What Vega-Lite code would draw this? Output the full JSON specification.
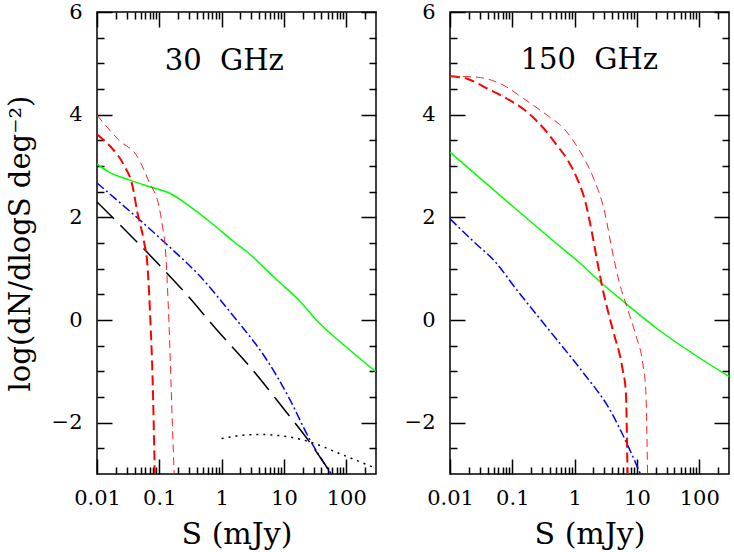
{
  "$schema": "https://vega.github.io/schema/vega-lite/v6.json",
  "background": "white",
  "padding": {"left": 5, "top": 0, "right": 4, "bottom": 5},
  "bounds": "flush",
  "spacing": 74,
  "config": {
    "view": {"stroke": "black", "strokeWidth": 1.5},
    "font": "DejaVu Serif",
    "axis": {"grid": false, "domain": false, "ticks": true, "zindex": 1, "tickColor": "black", "tickOpacity": 1, "tickWidth": 1.5, "labelColor": "black", "labelFont": "DejaVu Serif", "labelFontSize": 21, "titleFont": "DejaVu Serif", "titleFontWeight": "normal", "titleColor": "black", "labelFlush": false, "labelOverlap": false, "labelBound": false}
  },
  "datasets": {
    "curves": [
      {"p":"L","k":"green","s":0.01,"y":3.04},{"p":"L","k":"green","s":0.0156,"y":2.88},{"p":"L","k":"green","s":0.0348,"y":2.72},{"p":"L","k":"green","s":0.0728,"y":2.59},{"p":"L","k":"green","s":0.153,"y":2.46},{"p":"L","k":"green","s":0.32,"y":2.20},{"p":"L","k":"green","s":0.67,"y":1.90},{"p":"L","k":"green","s":1.585,"y":1.52},{"p":"L","k":"green","s":2.6,"y":1.32},{"p":"L","k":"green","s":7.42,"y":0.80},{"p":"L","k":"green","s":17.6,"y":0.38},{"p":"L","k":"green","s":36.8,"y":-0.06},{"p":"L","k":"green","s":77.2,"y":-0.41},{"p":"L","k":"green","s":300,"y":-1.01},
      {"p":"L","k":"blue","s":0.01,"y":2.67},{"p":"L","k":"blue","s":0.127,"y":1.49},{"p":"L","k":"blue","s":0.436,"y":0.87},{"p":"L","k":"blue","s":1.585,"y":0.06},{"p":"L","k":"blue","s":2.16,"y":-0.14},{"p":"L","k":"blue","s":5.13,"y":-0.75},{"p":"L","k":"blue","s":12.1,"y":-1.52},{"p":"L","k":"blue","s":25.5,"y":-2.31},{"p":"L","k":"blue","s":56.8,"y":-2.99},
      {"p":"L","k":"black","s":0.01,"y":2.30},{"p":"L","k":"black","s":0.1,"y":1.07},{"p":"L","k":"black","s":0.282,"y":0.48},{"p":"L","k":"black","s":0.807,"y":-0.17},{"p":"L","k":"black","s":2.8,"y":-0.90},{"p":"L","k":"black","s":9.48,"y":-1.70},{"p":"L","k":"black","s":25.5,"y":-2.37},{"p":"L","k":"black","s":56.8,"y":-2.99},
      {"p":"L","k":"redthick","s":0.01,"y":3.62},{"p":"L","k":"redthick","s":0.0129,"y":3.50},{"p":"L","k":"redthick","s":0.0176,"y":3.34},{"p":"L","k":"redthick","s":0.0272,"y":3.01},{"p":"L","k":"redthick","s":0.037,"y":2.62},{"p":"L","k":"redthick","s":0.0444,"y":2.10},{"p":"L","k":"redthick","s":0.0569,"y":1.52},{"p":"L","k":"redthick","s":0.0645,"y":1.07},{"p":"L","k":"redthick","s":0.0728,"y":-0.17},{"p":"L","k":"redthick","s":0.0776,"y":-1.05},{"p":"L","k":"redthick","s":0.0845,"y":-2.99},
      {"p":"L","k":"redthin","s":0.01,"y":3.99},{"p":"L","k":"redthin","s":0.0226,"y":3.50},{"p":"L","k":"redthin","s":0.0445,"y":3.18},{"p":"L","k":"redthin","s":0.0684,"y":2.69},{"p":"L","k":"redthin","s":0.0993,"y":2.20},{"p":"L","k":"redthin","s":0.115,"y":1.75},{"p":"L","k":"redthin","s":0.124,"y":1.45},{"p":"L","k":"redthin","s":0.132,"y":0.90},{"p":"L","k":"redthin","s":0.144,"y":-0.17},{"p":"L","k":"redthin","s":0.162,"y":-2.03},{"p":"L","k":"redthin","s":0.173,"y":-2.99},
      {"p":"L","k":"dotted","s":1.0,"y":-2.31},{"p":"L","k":"dotted","s":2.0,"y":-2.25},{"p":"L","k":"dotted","s":4.0,"y":-2.23},{"p":"L","k":"dotted","s":9.5,"y":-2.26},{"p":"L","k":"dotted","s":25.5,"y":-2.37},{"p":"L","k":"dotted","s":77.2,"y":-2.60},{"p":"L","k":"dotted","s":300,"y":-2.89},
      {"p":"R","k":"green","s":0.01,"y":3.27},{"p":"R","k":"green","s":0.1,"y":2.22},{"p":"R","k":"green","s":0.5,"y":1.50},{"p":"R","k":"green","s":1.24,"y":1.10},{"p":"R","k":"green","s":2.48,"y":0.76},{"p":"R","k":"green","s":6.64,"y":0.32},{"p":"R","k":"green","s":22.8,"y":-0.20},{"p":"R","k":"green","s":300,"y":-1.10},
      {"p":"R","k":"blue","s":0.01,"y":1.97},{"p":"R","k":"blue","s":0.0243,"y":1.52},{"p":"R","k":"blue","s":0.0535,"y":1.13},{"p":"R","k":"blue","s":0.114,"y":0.61},{"p":"R","k":"blue","s":0.5,"y":-0.36},{"p":"R","k":"blue","s":1.34,"y":-1.01},{"p":"R","k":"blue","s":3.6,"y":-1.73},{"p":"R","k":"blue","s":7.55,"y":-2.51},{"p":"R","k":"blue","s":11.35,"y":-3.0},
      {"p":"R","k":"redthick","s":0.01,"y":4.75},{"p":"R","k":"redthick","s":0.0188,"y":4.70},{"p":"R","k":"redthick","s":0.0393,"y":4.51},{"p":"R","k":"redthick","s":0.0824,"y":4.31},{"p":"R","k":"redthick","s":0.173,"y":4.05},{"p":"R","k":"redthick","s":0.32,"y":3.73},{"p":"R","k":"redthick","s":0.523,"y":3.40},{"p":"R","k":"redthick","s":0.806,"y":3.08},{"p":"R","k":"redthick","s":1.1,"y":2.75},{"p":"R","k":"redthick","s":1.49,"y":2.30},{"p":"R","k":"redthick","s":1.91,"y":1.68},{"p":"R","k":"redthick","s":2.3,"y":1.15},{"p":"R","k":"redthick","s":2.8,"y":0.62},{"p":"R","k":"redthick","s":4.05,"y":-0.17},{"p":"R","k":"redthick","s":5.86,"y":-0.95},{"p":"R","k":"redthick","s":6.64,"y":-1.40},{"p":"R","k":"redthick","s":7.05,"y":-3.0},
      {"p":"R","k":"redthin","s":0.01,"y":4.75},{"p":"R","k":"redthin","s":0.0272,"y":4.73},{"p":"R","k":"redthin","s":0.073,"y":4.57},{"p":"R","k":"redthin","s":0.153,"y":4.31},{"p":"R","k":"redthin","s":0.361,"y":3.99},{"p":"R","k":"redthin","s":0.67,"y":3.73},{"p":"R","k":"redthin","s":1.24,"y":3.27},{"p":"R","k":"redthin","s":2.03,"y":2.75},{"p":"R","k":"redthin","s":2.94,"y":2.17},{"p":"R","k":"redthin","s":4.27,"y":1.19},{"p":"R","k":"redthin","s":5.19,"y":0.74},{"p":"R","k":"redthin","s":7.05,"y":0.22},{"p":"R","k":"redthin","s":9.62,"y":-0.30},{"p":"R","k":"redthin","s":12.3,"y":-0.82},{"p":"R","k":"redthin","s":13.9,"y":-1.40},{"p":"R","k":"redthin","s":14.8,"y":-3.0}
    ],
    "labels": [
      {"p":"L","s":1.1,"y":4.87,"t":"30\u00a0 GHz"},
      {"p":"R","s":1.72,"y":4.89,"t":"150\u00a0 GHz"}
    ]
  },
  "hconcat": [
    {
      "width": 279, "height": 462,
      "resolve": {"axis": {"x": "independent", "y": "independent"}},
      "layer": [
        {"data": {"name": "curves"}, "transform": [{"filter": "datum.p == 'L' && datum.k == 'green'"}],
         "mark": {"type": "line", "color": "#00ff00", "strokeWidth": 1.5, "clip": true, "interpolate": "monotone"},
         "encoding": {
           "x": {"field": "s", "type": "quantitative", "scale": {"type": "log", "domain": [0.01, 300], "nice": false},
                 "axis": {"orient": "bottom", "values": [0.01, 0.1, 1, 10, 100], "format": "~g", "tickSize": -15, "labelPadding": 28, "title": "S (mJy)", "titleFontSize": 30, "titlePadding": 11}},
           "y": {"field": "y", "type": "quantitative", "scale": {"domain": [-3, 6], "nice": false, "zero": false},
                 "axis": {"orient": "left", "values": [-2, 0, 2, 4, 6], "format": "d", "tickSize": -15, "labelPadding": 30, "title": "log(dN/dlogS deg\u207b\u00b2)", "titleFontSize": 29, "titlePadding": 16}}
         }},
        {"data": {"name": "curves"}, "transform": [{"filter": "datum.p == 'L' && datum.k == 'blue'"}],
         "mark": {"type": "line", "color": "#0000ff", "strokeWidth": 1.5, "strokeDash": [9, 3, 2, 3], "clip": true, "interpolate": "monotone"},
         "encoding": {
           "x": {"field": "s", "type": "quantitative", "scale": {"type": "log", "domain": [0.01, 300], "nice": false},
                 "axis": {"orient": "bottom", "values": [0.02,0.03,0.04,0.05,0.06,0.07,0.08,0.09,0.2,0.3,0.4,0.5,0.6,0.7,0.8,0.9,2,3,4,5,6,7,8,9,20,30,40,50,60,70,80,90,200], "tickSize": -7, "labels": false, "title": null}},
           "y": {"field": "y", "type": "quantitative", "scale": {"domain": [-3, 6], "nice": false, "zero": false},
                 "axis": {"orient": "left", "values": [-2.5,-1.5,-1,-0.5,0.5,1,1.5,2.5,3,3.5,4.5,5,5.5], "tickSize": -7, "labels": false, "title": null}}
         }},
        {"data": {"name": "curves"}, "transform": [{"filter": "datum.p == 'L' && datum.k == 'black'"}],
         "mark": {"type": "line", "color": "#000000", "strokeWidth": 1.5, "strokeDash": [24, 9], "clip": true, "interpolate": "monotone"},
         "encoding": {
           "x": {"field": "s", "type": "quantitative", "scale": {"type": "log", "domain": [0.01, 300], "nice": false},
                 "axis": {"orient": "top", "values": [0.01, 0.1, 1, 10, 100], "tickSize": -15, "labels": false, "title": null}},
           "y": {"field": "y", "type": "quantitative", "scale": {"domain": [-3, 6], "nice": false, "zero": false},
                 "axis": {"orient": "right", "values": [-2, 0, 2, 4, 6], "tickSize": -15, "labels": false, "title": null}}
         }},
        {"data": {"name": "curves"}, "transform": [{"filter": "datum.p == 'L' && datum.k == 'redthick'"}],
         "mark": {"type": "line", "color": "#ff0000", "strokeWidth": 2, "strokeDash": [10, 5], "clip": true, "interpolate": "monotone"},
         "encoding": {
           "x": {"field": "s", "type": "quantitative", "scale": {"type": "log", "domain": [0.01, 300], "nice": false},
                 "axis": {"orient": "top", "values": [0.02,0.03,0.04,0.05,0.06,0.07,0.08,0.09,0.2,0.3,0.4,0.5,0.6,0.7,0.8,0.9,2,3,4,5,6,7,8,9,20,30,40,50,60,70,80,90,200], "tickSize": -7, "labels": false, "title": null}},
           "y": {"field": "y", "type": "quantitative", "scale": {"domain": [-3, 6], "nice": false, "zero": false},
                 "axis": {"orient": "right", "values": [-2.5,-1.5,-1,-0.5,0.5,1,1.5,2.5,3,3.5,4.5,5,5.5], "tickSize": -7, "labels": false, "title": null}}
         }},
        {"data": {"name": "curves"}, "transform": [{"filter": "datum.p == 'L' && datum.k == 'redthin'"}],
         "mark": {"type": "line", "color": "#ff2020", "strokeWidth": 1, "strokeDash": [8, 5], "clip": true, "interpolate": "monotone"},
         "encoding": {
           "x": {"field": "s", "type": "quantitative", "scale": {"type": "log", "domain": [0.01, 300], "nice": false}, "axis": null},
           "y": {"field": "y", "type": "quantitative", "scale": {"domain": [-3, 6], "nice": false, "zero": false}, "axis": null}
         }},
        {"data": {"name": "curves"}, "transform": [{"filter": "datum.p == 'L' && datum.k == 'dotted'"}],
         "mark": {"type": "line", "color": "#000000", "strokeWidth": 1.5, "strokeDash": [2, 5], "clip": true, "interpolate": "monotone"},
         "encoding": {
           "x": {"field": "s", "type": "quantitative", "scale": {"type": "log", "domain": [0.01, 300], "nice": false}, "axis": null},
           "y": {"field": "y", "type": "quantitative", "scale": {"domain": [-3, 6], "nice": false, "zero": false}, "axis": null}
         }},
        {"data": {"name": "labels"}, "transform": [{"filter": "datum.p == 'L'"}],
         "mark": {"type": "text", "font": "DejaVu Serif", "fontSize": 29, "align": "center", "baseline": "alphabetic", "color": "black"},
         "encoding": {
           "x": {"field": "s", "type": "quantitative", "scale": {"type": "log", "domain": [0.01, 300], "nice": false}, "axis": null},
           "y": {"field": "y", "type": "quantitative", "scale": {"domain": [-3, 6], "nice": false, "zero": false}, "axis": null},
           "text": {"field": "t"}
         }}
      ]
    },
    {
      "width": 279, "height": 462,
      "resolve": {"axis": {"x": "independent", "y": "independent"}},
      "layer": [
        {"data": {"name": "curves"}, "transform": [{"filter": "datum.p == 'R' && datum.k == 'green'"}],
         "mark": {"type": "line", "color": "#00ff00", "strokeWidth": 1.5, "clip": true, "interpolate": "monotone"},
         "encoding": {
           "x": {"field": "s", "type": "quantitative", "scale": {"type": "log", "domain": [0.01, 300], "nice": false},
                 "axis": {"orient": "bottom", "values": [0.01, 0.1, 1, 10, 100], "format": "~g", "tickSize": -15, "labelPadding": 28, "title": "S (mJy)", "titleFontSize": 30, "titlePadding": 11}},
           "y": {"field": "y", "type": "quantitative", "scale": {"domain": [-3, 6], "nice": false, "zero": false},
                 "axis": {"orient": "left", "values": [-2, 0, 2, 4, 6], "format": "d", "tickSize": -15, "labelPadding": 30, "title": null}}
         }},
        {"data": {"name": "curves"}, "transform": [{"filter": "datum.p == 'R' && datum.k == 'blue'"}],
         "mark": {"type": "line", "color": "#0000ff", "strokeWidth": 1.5, "strokeDash": [9, 3, 2, 3], "clip": true, "interpolate": "monotone"},
         "encoding": {
           "x": {"field": "s", "type": "quantitative", "scale": {"type": "log", "domain": [0.01, 300], "nice": false},
                 "axis": {"orient": "bottom", "values": [0.02,0.03,0.04,0.05,0.06,0.07,0.08,0.09,0.2,0.3,0.4,0.5,0.6,0.7,0.8,0.9,2,3,4,5,6,7,8,9,20,30,40,50,60,70,80,90,200], "tickSize": -7, "labels": false, "title": null}},
           "y": {"field": "y", "type": "quantitative", "scale": {"domain": [-3, 6], "nice": false, "zero": false},
                 "axis": {"orient": "left", "values": [-2.5,-1.5,-1,-0.5,0.5,1,1.5,2.5,3,3.5,4.5,5,5.5], "tickSize": -7, "labels": false, "title": null}}
         }},
        {"data": {"name": "curves"}, "transform": [{"filter": "datum.p == 'R' && datum.k == 'redthick'"}],
         "mark": {"type": "line", "color": "#ff0000", "strokeWidth": 2, "strokeDash": [10, 5], "clip": true, "interpolate": "monotone"},
         "encoding": {
           "x": {"field": "s", "type": "quantitative", "scale": {"type": "log", "domain": [0.01, 300], "nice": false},
                 "axis": {"orient": "top", "values": [0.01, 0.1, 1, 10, 100], "tickSize": -15, "labels": false, "title": null}},
           "y": {"field": "y", "type": "quantitative", "scale": {"domain": [-3, 6], "nice": false, "zero": false},
                 "axis": {"orient": "right", "values": [-2, 0, 2, 4, 6], "tickSize": -15, "labels": false, "title": null}}
         }},
        {"data": {"name": "curves"}, "transform": [{"filter": "datum.p == 'R' && datum.k == 'redthin'"}],
         "mark": {"type": "line", "color": "#ff2020", "strokeWidth": 1, "strokeDash": [8, 5], "clip": true, "interpolate": "monotone"},
         "encoding": {
           "x": {"field": "s", "type": "quantitative", "scale": {"type": "log", "domain": [0.01, 300], "nice": false},
                 "axis": {"orient": "top", "values": [0.02,0.03,0.04,0.05,0.06,0.07,0.08,0.09,0.2,0.3,0.4,0.5,0.6,0.7,0.8,0.9,2,3,4,5,6,7,8,9,20,30,40,50,60,70,80,90,200], "tickSize": -7, "labels": false, "title": null}},
           "y": {"field": "y", "type": "quantitative", "scale": {"domain": [-3, 6], "nice": false, "zero": false},
                 "axis": {"orient": "right", "values": [-2.5,-1.5,-1,-0.5,0.5,1,1.5,2.5,3,3.5,4.5,5,5.5], "tickSize": -7, "labels": false, "title": null}}
         }},
        {"data": {"name": "labels"}, "transform": [{"filter": "datum.p == 'R'"}],
         "mark": {"type": "text", "font": "DejaVu Serif", "fontSize": 29, "align": "center", "baseline": "alphabetic", "color": "black"},
         "encoding": {
           "x": {"field": "s", "type": "quantitative", "scale": {"type": "log", "domain": [0.01, 300], "nice": false}, "axis": null},
           "y": {"field": "y", "type": "quantitative", "scale": {"domain": [-3, 6], "nice": false, "zero": false}, "axis": null},
           "text": {"field": "t"}
         }}
      ]
    }
  ]
}
